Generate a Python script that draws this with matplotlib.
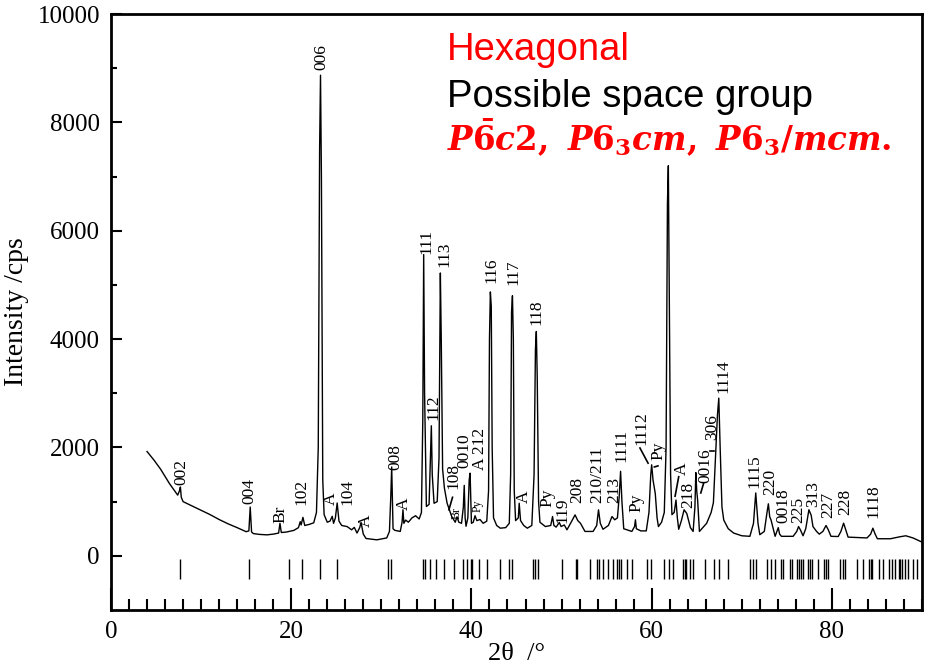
import matplotlib
matplotlib.use("Agg")
import matplotlib.pyplot as plt
from matplotlib.ticker import MultipleLocator, FixedLocator

two_theta = [4.0, 4.8, 5.5, 6.5, 7.4, 7.6, 7.7, 7.8, 8.0, 9.0, 10.0, 11.0, 12.0, 13.0, 14.0,
             15.0, 15.3, 15.45, 15.6, 15.8, 16.5, 17.3, 18.0, 18.6, 18.75, 18.9, 19.5, 20.3,
             20.8, 21.0, 21.1, 21.3, 21.5, 22.0, 22.5, 22.8, 23.0, 23.15, 23.25, 23.35, 23.5,
             23.65, 24.0, 24.3, 24.55, 24.7, 24.9, 25.1, 25.3, 25.6, 26.2, 26.7, 27.0, 27.3,
             27.6, 27.75, 28.0, 28.3, 29.5, 30.6, 30.9, 31.05, 31.15, 31.3, 31.5, 32.1, 32.3,
             32.4, 32.5, 32.7, 33.0, 33.4, 33.8, 34.2, 34.45, 34.6, 34.7, 34.8, 35.0, 35.3,
             35.45, 35.55, 35.65, 35.85, 36.2, 36.4, 36.55, 36.65, 36.8, 37.0, 37.3, 37.8,
             38.2, 38.4, 38.6, 38.9, 39.1, 39.2, 39.3, 39.4, 39.6, 39.75, 39.85, 40.0, 40.2,
             40.4, 40.6, 40.95, 41.3, 41.7, 41.9, 42.0, 42.1, 42.2, 42.3, 42.45, 42.8, 43.2,
             43.8, 44.2, 44.35, 44.45, 44.55, 44.65, 44.75, 44.9, 45.2, 45.3, 45.45, 45.8,
             46.2, 46.7, 46.95, 47.1, 47.2, 47.3, 47.45, 47.6, 48.2, 48.8, 49.0, 49.15, 49.4,
             49.75, 49.95, 50.3, 50.6, 51.0, 51.5, 51.8, 52.1, 52.6, 53.5, 53.9, 54.1, 54.3,
             54.6, 55.2, 55.6, 55.9, 56.2, 56.4, 56.55, 56.7, 56.9, 57.8, 58.1, 58.2, 58.3,
             58.8, 59.4, 59.7, 59.9, 60.0, 60.15, 60.4, 60.6, 60.75, 61.1, 61.4, 61.6, 61.75,
             61.85, 61.95, 62.1, 62.25, 62.5, 62.7, 62.85, 63.0, 63.3, 63.6, 63.9, 64.3, 64.6,
             64.8, 64.9, 65.0, 65.1, 65.3, 66.1, 66.6, 66.85, 67.1, 67.3, 67.45, 67.6, 67.8,
             68.0, 68.5, 69.1, 70.0, 70.9, 71.3, 71.55, 71.8, 72.0, 72.5, 72.8, 72.95, 73.1,
             73.25, 73.4, 73.7, 73.9, 74.05, 74.2, 74.4, 75.7, 76.1, 76.3, 76.5, 76.8, 77.1,
             77.45, 77.7, 77.9, 78.3, 78.6, 79.0, 79.35, 79.6, 79.9, 80.7, 81.0, 81.3, 81.6,
             81.8, 83.9, 84.3, 84.55, 84.8, 85.05, 86.5, 87.5, 88.2, 89.0, 90.0]
intensity = [1925, 1760, 1600, 1330, 1120, 1200, 1270, 1080, 1000, 920, 840, 760, 670, 590, 520,
             445, 460, 900, 440, 410, 395, 387, 400, 420, 600, 430, 440, 470,
             520, 630, 570, 710, 560, 580, 610, 800, 2000, 7500, 8870, 7000, 1400,
             760, 620, 640, 730, 600, 700, 975, 640, 560, 540, 480, 525, 420,
             520, 615, 400, 320, 295, 330, 450, 1100, 1640, 500, 470, 450, 620,
             850, 600, 660, 620, 700, 740, 680, 800, 2500, 5560, 3000, 910, 950,
             1800, 2400, 1500, 970, 1000, 1800, 5220, 4000, 1600, 1250, 970, 730,
             620, 720, 620, 600, 900, 1300, 700, 545, 700, 1400, 1526, 600, 620,
             740, 650, 670, 600, 640, 1200, 4000, 4870, 4600, 2000, 700, 560, 510,
             520, 600, 1500, 4500, 4800, 4000, 1200, 650, 700, 970, 650, 560,
             510, 560, 1500, 3800, 4140, 3300, 1000, 620, 540, 560, 725, 560, 530,
             615, 540, 570, 480, 600, 756, 650, 600, 450, 450, 560, 849, 600,
             490, 560, 725, 665, 700, 1100, 1560, 1000, 500, 450, 540, 665, 500,
             460, 460, 800, 1500, 1680, 1400, 1150, 700, 540, 620, 800, 2000, 6500,
             7200, 5000, 1500, 760, 800, 1030, 700, 490, 650, 850, 780, 520, 450,
             900, 1537, 1200, 1030, 450, 600, 800, 980, 1900, 2600, 2910, 2000, 900,
             660, 500, 420, 370, 360, 600, 1160, 600, 390, 450, 800, 960, 720,
             660, 560, 360, 450, 520, 400, 360, 360, 450, 540, 480, 370, 500,
             850, 750, 540, 450, 400, 450, 560, 480, 360, 356, 450, 603, 450,
             345, 330, 400, 510, 400, 315, 315, 350, 370, 330, 253]

# reference reflection positions (tick marks below the pattern)
ref_positions = [7.66, 15.35, 19.7, 21.2, 23.2, 25.1, 30.7, 31.05,
                 34.6, 34.8, 35.4, 36.1, 37.0, 38.1, 39.1, 39.5, 39.9, 40.1, 40.8, 41.7,
                 43.2, 44.2, 44.5, 46.8, 47.1, 47.4, 50.0, 51.6, 51.75, 53.2, 53.9, 54.1,
                 54.6, 55.2, 55.7, 56.1, 56.4, 56.6, 57.3, 57.8,
                 59.5, 59.9, 61.4, 61.9, 62.4, 63.5, 63.7, 63.8, 64.2, 64.6, 65.9, 66.9,
                 67.5, 68.5, 70.9, 71.2, 71.6, 72.8, 73.2, 73.7, 74.3, 74.6,
                 75.4, 75.6, 76.1, 76.3, 76.6, 76.8, 77.4, 77.6, 77.8, 78.5, 79.1, 79.4,
                 79.6, 80.9, 81.2, 81.4, 82.8, 83.4, 84.1, 84.3, 84.5, 85.2, 85.7, 86.3,
                 86.7, 87.0, 87.4, 87.6, 87.8, 88.1, 88.5, 89.0, 89.5]

# peak annotations: (text, 2theta, bottom of text, small font?)
peak_labels = [("002", 7.8, 1310, False), ("004", 15.4, 950, False), ("Br", 18.8, 610, False),
               ("102", 21.1, 940, False), ("006", 23.3, 8970, False), ("A", 24.4, 940, False),
               ("104", 26.2, 940, False), ("A", 28.3, 540, False), ("008", 31.6, 1590, False),
               ("A", 32.5, 850, False), ("111", 35.0, 5570, False), ("112", 35.8, 2510, False),
               ("113", 37.0, 5330, False), ("108", 38.0, 1230, False), ("Br", 38.4, 680, True),
               ("0010", 39.25, 1620, False), ("Py", 40.7, 800, True), ("A 212", 41.0, 1590, False),
               ("116", 42.25, 5040, False), ("117", 44.7, 5000, False), ("A", 45.8, 980, False),
               ("118", 47.25, 4260, False), ("Py", 48.45, 900, False), ("119", 50.1, 610, False),
               ("208", 51.7, 980, False), ("210/211", 54.0, 980, False), ("213", 55.85, 980, False),
               ("1111", 56.7, 1740, False), ("Py", 58.3, 810, False), ("1112", 58.9, 2050, False),
               ("Py", 60.75, 1770, False), ("A", 63.3, 1490, False), ("218", 64.1, 890, False),
               ("0016", 66.0, 1340, False), ("306", 66.75, 2140, False), ("1114", 68.0, 3000, False),
               ("1115", 71.4, 1250, False), ("220", 73.2, 1125, False), ("0018", 74.6, 610, False),
               ("225", 76.3, 610, False), ("313", 77.9, 900, False), ("227", 79.55, 700, False),
               ("228", 81.5, 760, False), ("1118", 84.6, 700, False)]

plt.rcParams['font.family'] = ['Liberation Serif', 'DejaVu Serif']
plt.rcParams['mathtext.fontset'] = 'custom'
plt.rcParams['mathtext.it'] = 'DejaVu Serif:italic:bold'
plt.rcParams['mathtext.rm'] = 'DejaVu Serif:bold'
plt.rcParams['mathtext.bf'] = 'DejaVu Serif:bold'

fig = plt.figure(figsize=(9.26, 6.7), dpi=100)
ax = fig.add_axes([111 / 926, 60 / 670, 811 / 926, 596 / 670])

ax.plot(two_theta, intensity, color='black', lw=1.0)
ax.vlines(ref_positions, -420, -60, color='black', lw=1.0)

for text, x, y, small in peak_labels:
    ax.text(x, y, text, rotation=90, ha='center', va='bottom',
            fontsize=8.5 if small else 12.5)

# leader lines next to a few labels
ax.plot([37.5, 37.9], [850, 1080], color='black', lw=1.2)
ax.plot([58.7, 59.6], [1990, 1710], color='black', lw=1.2)
ax.plot([60.3, 60.7], [1640, 1660], color='black', lw=1.2)
ax.plot([62.6, 63.0], [1100, 1460], color='black', lw=1.2)
ax.plot([65.45, 65.75], [1160, 1330], color='black', lw=1.2)
ax.plot([66.5, 66.95], [1930, 1930], color='black', lw=1.2)

ax.text(37.3, 9150, "Hexagonal", color='#ff0000', fontsize=27.5,
        family='Liberation Sans', va='baseline')
ax.text(37.3, 8280, "Possible space group", color='black', fontsize=27.5,
        family='Liberation Sans', va='baseline')
ax.text(37.3, 7490, r'$\mathit{P\bar{6}c2,\ P6_3cm,\ P6_3/mcm.}$', color='#ff0000',
        fontsize=23.5, va='baseline')

ax.set_xlim(0, 90)
ax.set_ylim(-1000, 10000)
ax.set_xticks([0, 20, 40, 60, 80])
ax.xaxis.set_minor_locator(MultipleLocator(2))
ax.set_yticks([0, 2000, 4000, 6000, 8000, 10000])
ax.yaxis.set_minor_locator(FixedLocator([1000, 3000, 5000, 7000, 9000]))
ax.tick_params(axis='x', which='major', direction='in', length=16, width=1.5, labelsize=18, pad=8)
ax.tick_params(axis='x', which='minor', direction='in', length=8, width=1.5)
ax.tick_params(axis='y', which='major', direction='in', length=8, width=1.5, labelsize=18, pad=8)
ax.tick_params(axis='y', which='minor', direction='in', length=4, width=1.5)
for side in ax.spines.values():
    side.set_linewidth(2)

ax.set_xlabel('2θ  /°', fontsize=19, labelpad=0)
ax.set_ylabel('Intensity /cps', fontsize=20, labelpad=6)

fig.savefig('out.png', dpi=100)
